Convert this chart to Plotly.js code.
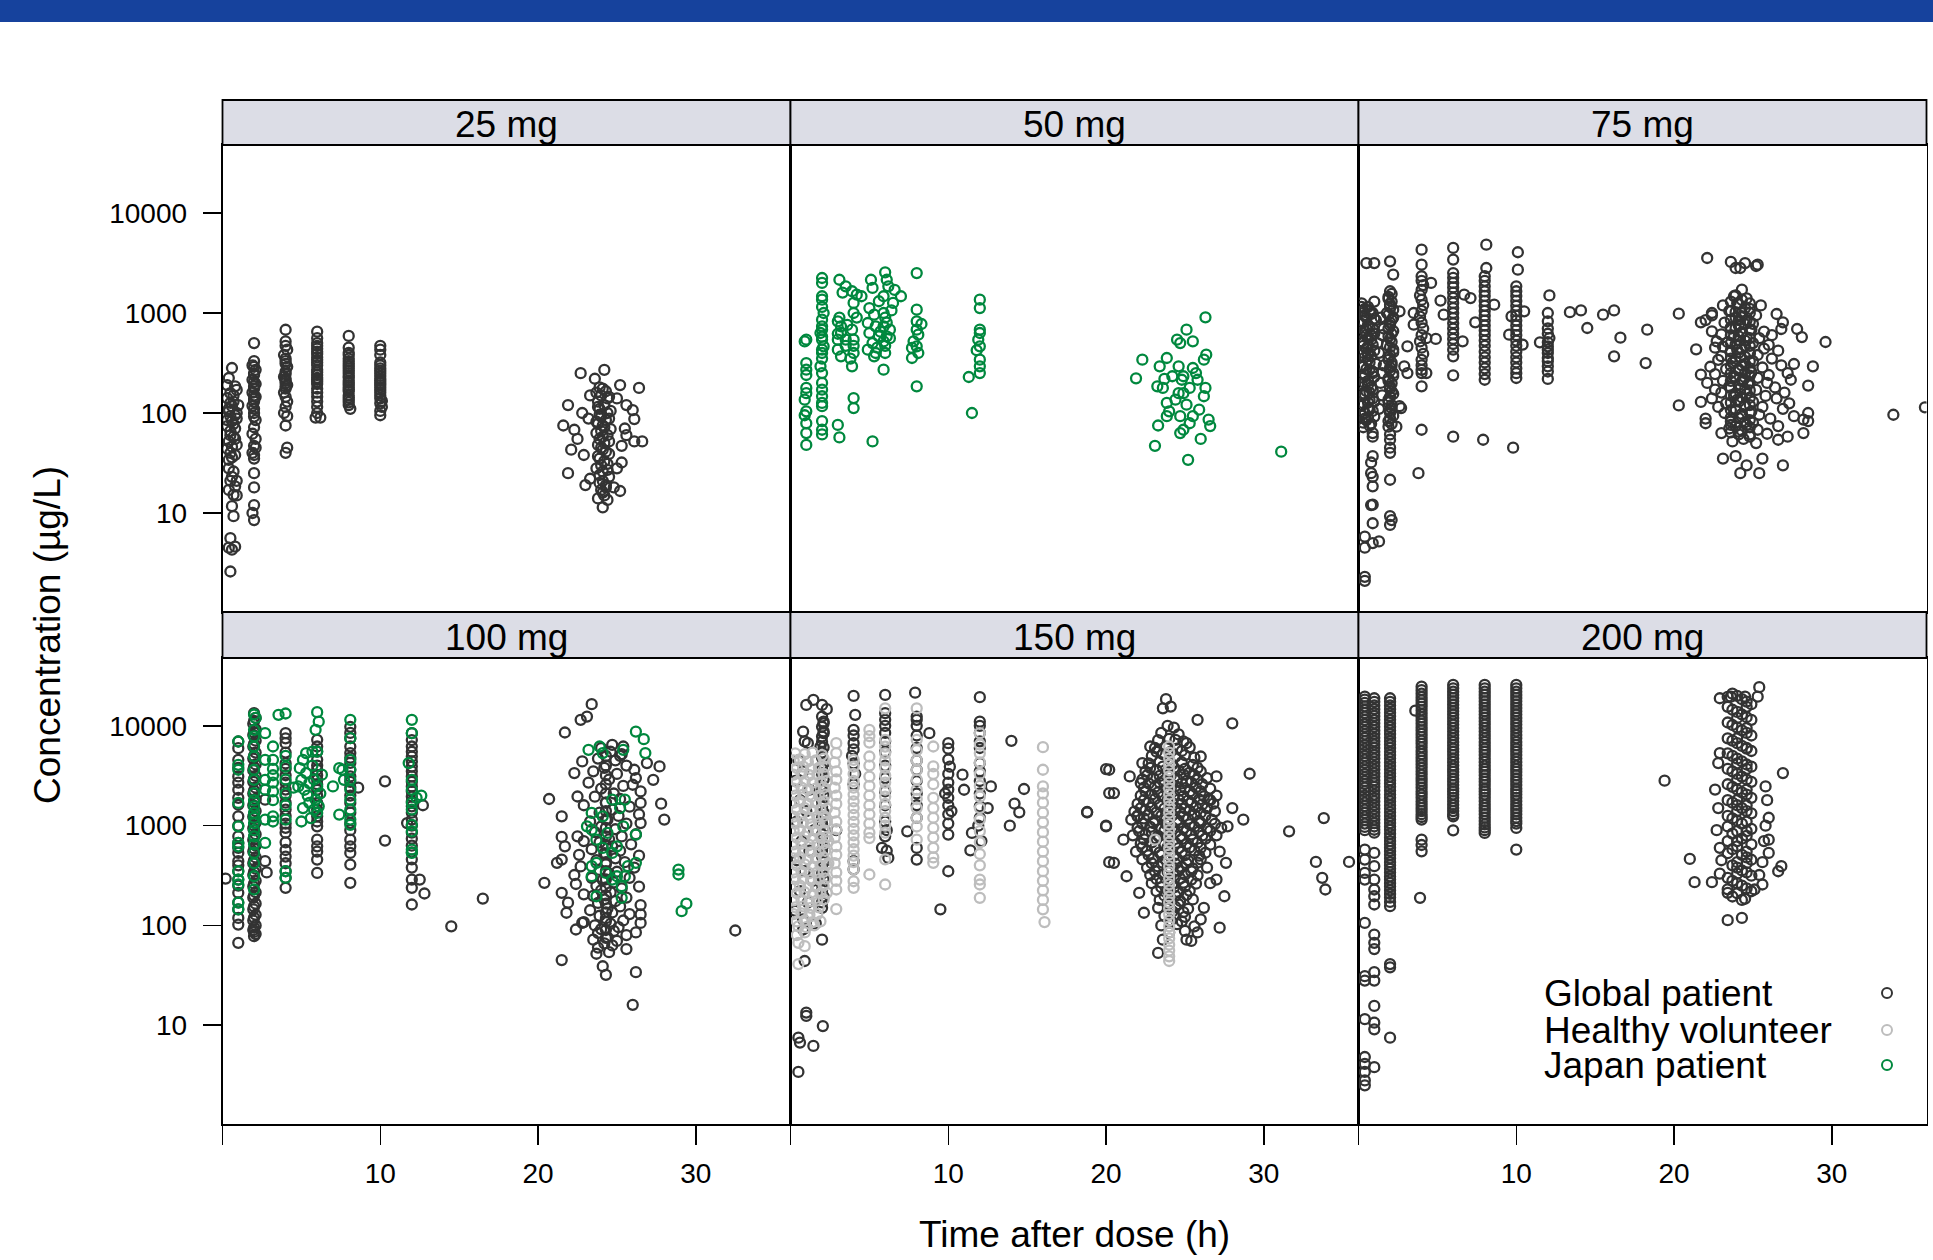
<!DOCTYPE html>
<html>
<head>
<meta charset="utf-8">
<script src="https://cdn.plot.ly/plotly-3.0.1.min.js"></script>
<style>
html,body{margin:0;padding:0;background:#fff;}
#chart{width:1933px;height:1260px;}
</style>
</head>
<body>
<div id="chart"></div>
<script>
// ---------------- DATA ----------------
const doses = ['25 mg','50 mg','75 mg','100 mg','150 mg','200 mg'];
const groups = ['Global patient','Healthy volunteer','Japan patient'];
const groupColors = ['#333333','#bdbdbd','#00883e'];
const yTickVals = [10,100,1000,10000];
const yTickText = ['10','100','1000','10000'];
const xTickVals = [0,10,20,30];
const xTickText = ['','10','20','30'];
const xTitle = 'Time after dose (h)';
const yTitle = 'Concentration (µg/L)';

// [time (h), concentration (µg/L)]
const global25 = [
[0.6,282],[0.4,224],[0.8,185],[0.5,158],[0.9,170],[0.3,141],[0.7,150],[0.5,126],[1.0,120],[0.6,117],[0.4,104],[0.8,95],[0.5,93],[0.9,88],[0.6,83],[0.3,74],[0.8,70],[0.5,66],[0.7,58],[0.4,52],[0.9,48],[0.6,46],[0.5,40],[0.8,38],[0.4,34],[0.6,23],[0.9,21],[0.5,21],[0.8,18.5],[0.4,17],[0.7,15.2],[0.9,15],[0.6,11.7],[0.7,9.3],[0.5,5.6],[0.8,4.6],[0.4,4.5],[0.6,4.3],[0.5,2.6],
[0.3,190],[0.7,130],[0.4,110],[0.9,100],[0.3,85],[0.7,78],[0.5,60],[0.8,55],[0.3,44],[0.6,36],[0.4,28],[0.7,26],
[2.0,500],[2.0,330],[1.9,300],[2.0,290],[2.1,270],[2.0,250],[2.0,240],[1.9,215],[2.0,205],[2.1,195],[2.0,185],[2.0,175],[1.9,160],[2.0,150],[2.1,145],[2.0,138],[2.0,130],[1.9,118],[2.0,110],[2.0,100],[2.0,92],[2.1,85],[2.0,72],[1.9,62],[2.1,55],[2.0,47],[2.1,45],[1.9,40],[2.0,38],[2.0,35],[2.0,25],[2.0,18],[2.0,12],[1.9,10],[2.0,8.5],
[4.0,680],[4.0,520],[4.0,470],[4.1,430],[3.9,380],[4.0,350],[4.0,330],[4.0,310],[4.1,290],[4.0,260],[4.0,245],[3.9,230],[4.0,220],[4.0,210],[4.0,200],[4.1,190],[4.0,185],[4.0,175],[3.9,160],[4.0,145],[4.1,130],[4.0,115],[3.9,100],[4.1,93],[4.0,75],[4.1,45],[4.0,40],
[6.0,650],[6.0,560],[6.0,500],[6.0,470],[6.0,440],[6.0,410],[6.0,390],[6.0,360],[6.0,340],[6.0,320],[6.0,300],[6.0,270],[6.0,255],[6.0,240],[6.0,225],[6.0,215],[6.0,205],[6.0,195],[6.0,175],[6.0,160],[6.0,145],[6.0,130],[6.0,115],[6.0,100],[5.9,90],[6.2,90],
[8.0,590],[8.0,450],[8.0,400],[8.0,380],[8.0,350],[8.0,330],[8.0,310],[8.0,295],[8.0,280],[8.0,265],[8.0,250],[8.0,235],[8.0,225],[8.0,210],[8.0,200],[8.0,190],[8.0,180],[8.0,172],[8.0,165],[8.0,150],[8.0,142],[8.0,135],[8.0,128],[8.0,120],[8.1,110],
[10.0,470],[10.0,430],[10.0,380],[10.0,320],[10.0,300],[10.0,280],[10.0,265],[10.0,250],[10.0,235],[10.0,220],[10.0,210],[10.0,200],[10.0,190],[10.0,180],[10.0,170],[10.0,160],[10.0,150],[10.0,140],[10.1,132],[10.0,125],[10.1,115],[10.0,105],[10.0,95],
[22.7,250],[24.2,270],[23.6,220],[25.2,190],[26.4,178],[21.9,120],[21.6,75],[22.3,68],[26.0,107],[26.1,87],[26.1,52],[26.6,52],[21.9,25],[25.3,32],[25.2,16.6],[24.4,13.5],[24.1,11.4],[22.1,43],[22.8,100],[23.0,19],[25.3,47],[22.5,55],[23.2,88],[25.5,70],[25.0,140],[23.3,150],[25.6,120],[22.9,38],[25.6,60],[25.0,28],[23.3,22],[24.8,18],
[23.9,180],[24.3,165],[24.0,150],[24.4,140],[23.8,130],[24.2,120],[23.9,110],[24.4,100],[24.0,92],[24.3,85],[23.8,78],[24.2,72],[24.0,66],[24.4,60],[23.9,55],[24.2,50],[24.0,45],[24.3,41],[23.8,37],[24.2,33],[24.0,30],[24.4,27],[23.9,24],[24.1,21],[24.3,19],[24.0,17],[24.2,15],
[24.1,175],[23.7,160],[24.5,145],[23.8,115],[24.6,105],[23.9,96],[24.5,88],[23.7,82],[24.1,75],[24.6,69],[23.7,63],[24.1,58],[24.5,52],[23.8,48],[24.1,43],[24.5,39],[23.9,35],[24.4,31],[23.7,28],[24.1,26],[24.5,23],[23.9,20],[24.3,18],[24.1,16],[23.8,14]
];

const japan50 = [
[1.0,541],[0.9,520],[1.0,316],[1.0,271],[1.0,240],[1.0,178],[1.0,158],[0.9,136],[1.0,104],[0.9,95],[1.0,79],[1.0,63],[1.0,48],
[2.0,2240],[2.0,2000],[2.0,1470],[2.0,1360],[2.0,1150],[2.1,1000],[2.0,858],[2.0,736],[2.0,680],[1.9,631],[2.0,580],[2.0,541],[2.1,464],[2.0,430],[2.0,398],[2.0,350],[1.9,293],[2.0,251],[2.0,200],[2.0,171],[2.0,147],[2.0,126],[2.0,117],[2.0,83],[2.0,68],[2.0,61],
[3.1,2150],[3.5,1850],[3.9,1650],[4.2,1525],[4.0,1260],[4.0,1000],[3.0,825],[3.2,736],[3.2,631],[3.0,541],[3.5,541],[3.9,681],[4.0,541],[3.0,430],[3.2,369],[4.0,398],[3.9,293],[4.0,141],[4.0,112],[3.0,76],[3.1,57],[4.5,1470],[3.3,1600],[3.1,900],[3.5,470],[4.0,470],[3.0,620],[3.6,760],[4.2,900],[3.8,350],
[5.1,2150],[6.0,2550],[6.1,2150],[6.2,1850],[5.2,1780],[5.6,1310],[5.9,1470],[7.0,1470],[6.5,1260],[5.0,1120],[5.3,962],[5.9,1000],[6.4,1060],[4.9,794],[5.4,736],[5.9,736],[6.3,681],[5.0,631],[5.6,585],[6.1,585],[5.2,500],[5.9,520],[4.9,430],[5.4,398],[6.0,398],[5.3,369],[5.9,271],[5.2,52],[6.0,900],[6.1,800],[5.7,650],[6.0,470],[5.5,450],[6.3,560],[6.6,1700],
[8.0,2510],[8.0,1080],[8.0,825],[8.3,776],[8.0,681],[8.1,607],[7.8,521],[8.0,464],[7.7,447],[8.1,398],[7.7,355],[8.0,185],
[12.0,1360],[12.0,1120],[12.0,681],[12.0,631],[11.9,541],[12.0,464],[11.8,424],[12.0,341],[12.0,293],[12.0,251],[11.3,229],[11.5,100],
[21.9,222],[22.3,341],[23.1,47],[23.3,75],[23.4,293],[23.85,355],[23.25,185],[23.6,178],[23.7,219],[23.85,126],[24.0,104],[24.5,541],[24.6,293],[24.7,500],[24.8,215],[24.9,158],[25.1,681],[25.2,34],[24.9,68],[25.1,121],[25.3,178],[25.5,521],[25.5,282],[25.7,251],[25.8,215],[25.9,108],[26.0,55],[26.2,341],[26.3,906],[26.3,178],[26.2,147],[26.35,383],[26.5,86],[26.6,74],[24.7,93],[25.5,93],[25.3,79],[24.4,136],[24.6,158],[24.2,233],[24.9,233],[23.85,93],[24.7,63],
[31.1,41]
];

const global75 = [
[0.5,3160],[1.0,3160],
[0.2,1250],[0.6,1150],[1.0,1300],[0.3,1050],[0.8,980],[0.5,900],[1.1,850],[0.2,780],[0.7,720],[0.4,660],[1.0,620],[0.6,560],[0.2,520],[0.9,480],[0.5,440],[0.3,400],[0.8,370],[0.6,340],[1.1,310],[0.3,290],[0.7,270],[0.4,245],[1.0,230],[0.6,210],[0.2,195],[0.8,180],[0.5,165],[0.3,150],[0.9,140],[0.6,128],[0.2,118],[0.7,108],[0.4,100],[1.0,92],[0.5,85],[0.8,78],[0.3,72],
[0.4,1100],[0.9,1000],[0.5,700],[0.8,600],[0.3,470],[0.6,380],[0.9,260],[0.4,200],[0.7,160],[1.0,130],[0.4,88],
[0.2,1150],[0.7,1050],[0.4,950],[1.0,880],[0.3,820],[0.6,760],[0.9,700],[0.2,640],[0.5,600],[0.8,540],[0.3,500],[0.6,460],[1.0,420],[0.4,360],[0.7,320],[0.2,300],[0.5,275],[0.9,250],[0.3,225],[0.6,190],[0.9,170],[0.4,155],[0.7,135],[0.3,125],[0.6,112],[0.9,105],[0.2,95],[0.6,90],[0.3,80],[0.7,75],
[1.4,900],[1.5,600],[1.3,400],[1.6,300],[1.4,200],[1.5,150],[1.3,110],[1.6,700],[1.2,500],[1.5,250],
[0.9,63],[0.9,58],[0.9,37],[0.8,32],[0.9,23],[0.8,25],[0.9,18.5],[0.9,12.1],[0.8,12],[0.9,7.9],[0.4,5.8],[0.4,4.5],[0.9,5],[1.3,5.2],[0.4,2.3],[0.4,2.1],
[2.0,3290],[2.2,2420],[2.0,1650],[1.9,1450],[2.1,1300],[2.0,1150],[1.8,1000],[2.2,900],[2.0,800],[1.9,700],[2.1,620],[2.0,550],[1.8,480],[2.2,430],[2.0,380],[1.9,340],[2.1,300],[2.0,265],[2.2,235],[1.9,210],[2.0,185],[2.1,165],[2.0,145],[1.9,128],[2.1,112],[2.0,100],[2.0,88],[2.1,78],[1.9,73],[2.0,61],[2.0,54],[2.0,45],[2.0,40],[2.0,21.5],[2.0,9.3],[2.0,7.6],[2.1,8.5],
[2.1,1550],[1.9,1380],[2.0,1220],[2.2,1080],[1.9,960],[2.1,850],[2.0,750],[2.2,660],[1.9,585],[2.1,515],[2.0,455],[2.2,405],[1.9,360],[2.1,320],[2.0,285],[2.2,250],[1.9,222],[2.1,198],[2.0,175],[2.2,155],[1.9,136],[2.1,120],[2.0,106],[2.2,94],[1.9,83],
[2.6,1040],[3.1,464],[3.1,251],[2.6,117],[2.9,293],[2.7,112],[2.4,73],
[4.0,4300],[4.0,3040],[4.0,2330],[4.0,2100],[4.1,1900],[4.0,1700],[3.9,1500],[4.0,1350],[4.1,1200],[4.0,1050],[3.9,920],[4.0,800],[4.1,700],[4.0,600],[3.9,520],[4.0,450],[4.1,390],[4.0,340],[4.0,300],[4.0,270],[4.0,251],[4.0,185],[4.0,68],[3.8,25],[3.5,1000],[3.5,764],[4.6,2000],[4.9,550],[4.3,251],[4.3,560],
[6.0,4470],[6.0,3420],[6.0,2510],[6.0,2250],[6.0,2000],[6.0,1800],[6.0,1600],[6.0,1420],[6.0,1260],[6.0,1120],[6.0,1000],[6.0,890],[6.0,790],[6.0,700],[6.0,620],[6.0,550],[6.0,490],[6.0,430],[6.0,369],[6.0,238],[6.0,58],[5.2,1330],[5.4,962],[6.7,1525],[7.1,1410],[6.6,521],
[8.1,4820],[8.1,2820],[8.0,2330],[8.0,2100],[8.0,1850],[8.0,1650],[8.0,1480],[8.0,1320],[8.0,1180],[8.0,1050],[8.0,940],[8.0,840],[8.0,750],[8.0,670],[8.0,600],[8.0,530],[8.0,470],[8.0,410],[8.0,360],[8.0,320],[8.0,280],[8.0,245],[8.0,215],[7.9,54],[7.4,807],[8.6,1210],
[10.1,4050],[10.1,2710],[10.0,1850],[10.0,1650],[10.0,1480],[10.0,1320],[10.0,1180],[10.0,1050],[10.0,940],[10.0,840],[10.0,750],[10.0,670],[10.0,600],[10.0,530],[10.0,470],[10.0,410],[10.0,360],[10.0,320],[10.0,280],[10.0,250],[10.0,224],[9.8,45],[9.55,607],[9.7,927],[10.5,1040],[10.4,482],
[12.1,1500],[12.0,1000],[12.0,825],[12.0,700],[12.0,620],[12.1,562],[12.0,510],[12.0,464],[12.0,430],[12.0,398],[12.0,355],[12.0,330],[12.0,293],[12.0,260],[12.0,219],[11.5,509],
[13.4,1020],[14.1,1060],[14.5,708],[15.5,962],[16.2,1060],[16.6,566],[16.2,369],[18.3,681],[18.2,316],[20.3,985],[20.3,119],[21.4,433],[21.7,807],[22.4,948],[21.7,242],[21.7,129],
[22.1,3550],[23.6,3240],[23.9,2820],[24.5,3160],[25.3,3040],[24.2,2820],[25.2,2950],
[24.3,1710],[23.8,1470],[24.6,1400],[23.1,1190],[25.5,1190],[24.0,1250],[24.8,1100],[23.5,1050],[24.3,1000],[22.4,1000],[26.5,977],[25.2,950],[23.9,900],[24.6,850],[22.0,850],[26.9,807],[23.2,800],[25.0,780],[24.1,750],[26.8,692],[22.4,656],[23.6,700],[24.9,680],[25.7,650],[24.3,640],[23.0,610],[27.8,692],[28.1,575],[29.6,513],[22.7,521],[23.8,590],[24.6,570],[25.4,560],[26.2,600],[24.1,530],[23.4,510],[25.0,500],[26.0,480],[24.5,470],[23.1,460],[22.6,450],[25.7,440],[24.0,430],[26.6,420],[23.6,410],[24.8,400],[25.3,380],[23.0,370],[24.2,360],[26.2,350],[22.8,340],[25.0,330],[23.7,320],[24.5,310],[27.6,309],[28.8,293],[26.8,300],[22.3,290],[25.6,285],[23.3,275],[24.1,265],[24.9,255],[27.2,250],[22.6,245],[26.0,240],[23.8,232],[25.3,225],[24.4,215],[27.4,215],[23.1,210],[22.1,200],[25.9,200],[24.7,195],[28.5,188],[23.5,185],[26.4,180],[22.6,171],[24.2,175],[25.2,170],[23.0,160],[27.0,160],[24.6,155],[23.8,150],[25.8,148],[22.4,140],[26.5,140],[24.0,135],[25.0,130],[23.3,125],[27.3,125],[24.5,120],[22.8,115],[25.6,115],[26.9,110],[23.9,108],[24.9,104],[28.5,100],[23.2,100],[25.4,96],[27.6,93],[24.3,92],[22.0,88],[26.1,88],[28.2,86],[28.5,83],[23.6,82],[25.0,80],[22.0,79],[24.6,76],[26.6,74],[23.5,70],[25.3,68],[24.1,65],[28.2,63],[23.0,63],[25.9,62],[24.8,58],[27.2,58],[24.4,55],[26.6,54],[23.7,52],[25.2,50],[23.1,35],[23.9,37],[24.2,25],[25.4,25],[25.6,35],[26.9,30],[24.6,30],
[23.9,1500],[24.3,1350],[24.1,1230],[24.5,1120],[23.9,1020],[24.3,930],[24.1,850],[24.5,775],[23.9,705],[24.3,640],[24.1,585],[24.5,530],[23.9,485],[24.3,440],[24.1,400],[24.5,365],[23.9,330],[24.3,300],[24.1,275],[24.5,250],[23.9,228],[24.3,208],[24.1,190],[24.5,172],[23.9,157],[24.3,143],[24.1,130],[24.5,118],[23.9,108],[24.3,98],[24.1,89],[24.5,81],[23.9,74],[24.3,67],[24.1,61],
[23.6,1300],[24.8,1250],[23.6,1050],[24.8,1000],[23.6,860],[24.8,820],[23.6,720],[24.8,680],[23.6,600],[24.8,560],[23.6,500],[24.8,470],[23.6,420],[24.8,395],[23.6,350],[24.8,330],[23.6,295],[24.8,280],[23.6,250],[24.8,236],[23.6,210],[24.8,200],[23.6,178],[24.8,168],[23.6,150],[24.8,142],[23.6,127],[24.8,120],[23.6,107],[24.8,101],[23.6,90],[24.8,85],[23.6,76],[24.8,72],[23.6,64],[24.8,61],
[33.9,96],[35.9,114]
];

const global100 = [
[1.0,6970],[1.0,5980],[1.0,4570],[1.0,3800],[1.0,3110],[1.0,2700],[1.0,2290],[1.0,1900],[1.0,1620],[1.0,1240],[1.0,1000],[1.0,782],[1.0,671],[1.0,600],[1.0,533],[1.0,440],[1.0,400],[1.0,350],[1.0,288],[1.0,250],[1.0,212],[1.0,170],[1.0,145],[1.0,119],[1.0,102],[1.0,67],[0.2,295],
[2.0,13400],[2.1,12000],[1.95,10500],[2.1,9200],[1.95,8100],[2.1,7100],[1.95,6200],[2.1,5400],[1.95,4700],[2.1,4100],[1.95,3600],[2.1,3150],[1.95,2750],[2.1,2400],[1.95,2100],[2.1,1850],[1.95,1600],[2.1,1400],[1.95,1230],[2.1,1070],[1.95,940],[2.1,820],[1.95,720],[2.1,630],[1.95,550],[2.1,480],[1.95,420],[2.1,370],[1.95,320],[2.1,280],[1.95,245],[2.1,215],[1.95,190],[2.1,165],[1.95,145],[2.1,128],[1.95,112],[2.1,100],[1.95,90],[2.1,82],[2.0,78],
[2.0,11200],[2.0,8600],[2.0,6600],[2.0,5000],[2.0,3850],[2.0,2950],[2.0,2250],[2.0,1720],[2.0,1310],[2.0,1000],[2.0,770],[2.0,590],[2.0,450],[2.0,345],[2.0,262],[2.0,200],[2.0,155],[2.0,120],[2.0,95],[2.0,86],
[2.7,1820],[2.7,440],[2.8,340],
[4.0,8450],[4.0,7500],[4.0,6700],[4.0,5400],[4.0,4200],[4.0,3700],[4.0,3200],[4.0,2700],[4.0,2300],[4.0,2000],[4.0,1700],[4.0,1450],[4.0,1250],[4.0,1050],[4.0,950],[4.0,850],[4.0,680],[4.0,570],[4.0,490],[4.0,420],[4.0,350],[4.0,300],[4.0,238],
[6.0,7240],[6.0,6210],[6.0,5530],[6.0,4570],[6.0,4000],[6.0,3630],[6.0,3200],[6.0,2880],[6.0,2600],[6.0,2290],[6.0,2000],[6.0,1690],[6.0,1450],[6.0,1240],[6.0,1100],[6.0,985],[6.0,724],[6.0,621],[6.0,550],[6.0,457],[6.0,336],
[8.1,9770],[8.1,8500],[8.1,7530],[8.1,6210],[8.1,5330],[8.1,4800],[8.1,4250],[8.1,3630],[8.1,3110],[8.1,2750],[8.1,2420],[8.1,2000],[8.1,1690],[8.1,1350],[8.1,1060],[8.1,900],[8.1,724],[8.1,621],[8.1,533],[8.1,407],[8.1,267],[8.6,2400],
[10.3,2780],[10.3,708],
[12.0,8450],[12.0,7200],[12.0,6210],[12.0,5500],[12.0,4930],[12.0,4400],[12.0,3910],[12.0,3500],[12.0,3110],[12.0,2750],[12.0,2470],[12.0,2200],[12.0,1960],[12.0,1750],[12.0,1560],[12.0,1350],[12.0,1150],[12.0,1000],[12.0,850],[12.0,740],[12.0,630],[12.0,540],[12.0,460],[12.0,380],[12.0,288],[12.0,238],[12.0,162],[12.5,288],[12.8,209],[12.7,1600],[11.7,1060],
[14.5,98],[16.5,186],
[23.4,16500],[23.1,12400],[22.7,11500],[21.7,8580],[20.7,1850],[21.5,1240],[20.4,267],[21.5,212],[21.5,45],[22.3,3360],[22.8,4400],[22.5,1960],[23.7,52],[24.1,39],[24.3,32],[26.2,34],[26.0,16],[28.0,1150],[27.8,1660],[27.7,3920],[27.3,2880],[26.9,4240],[26.5,1690],[26.1,3630],[25.4,6210],[24.7,6460],[25.2,5010],[26.0,2570],[26.5,1060],[26.5,106],[26.5,129],[26.2,85],[22.8,106],[22.4,91],[21.8,134],[21.9,169],[21.5,457],[21.2,424],[21.7,621],[21.5,771],[22.5,782],
[24.0,6000],[24.6,5500],[25.3,5200],[23.8,4700],[24.9,4500],[25.6,4000],[24.2,3800],[23.5,3500],[25.0,3300],[26.2,3000],[24.5,2900],[23.2,2700],[25.4,2500],[24.0,2350],[26.5,2200],[24.8,2100],[23.6,1950],[25.2,1850],[24.3,1700],[22.9,1600],[25.8,1550],[24.7,1450],[23.9,1350],[26.4,1300],[25.1,1250],[24.4,1150],[23.3,1100],[25.6,1050],[24.0,980],[24.9,920],[23.6,860],[26.2,820],[25.3,780],[24.5,730],[22.9,700],[23.9,680],[25.9,650],[24.7,620],[23.4,580],[25.2,560],[24.2,530],[22.6,510],[26.4,500],[24.9,470],[23.7,450],[25.5,430],[24.3,410],[22.7,390],[26.1,380],[23.9,360],[25.0,345],[24.5,330],[22.3,320],[23.4,300],[25.8,300],[24.1,285],[24.8,270],[22.4,260],[23.7,250],[26.4,245],[25.3,235],[24.0,225],[24.6,215],[22.9,205],[23.5,198],[25.6,190],[24.2,182],[24.9,175],[23.8,168],[26.5,160],[25.2,155],[24.4,148],[23.3,142],[24.7,135],[25.8,130],[23.9,125],[24.3,118],[25.4,112],[22.9,108],[24.6,104],[23.6,100],[25.1,96],[24.0,92],[24.8,88],[23.8,84],[25.6,80],[24.4,76],[23.5,72],[25.0,70],[24.2,66],[24.7,63],[23.8,60],[25.6,58],[24.5,54],
[24.3,5000],[24.3,4000],[24.3,3200],[24.3,2600],[24.3,2100],[24.3,1700],[24.3,1400],[24.3,1150],[24.3,950],[24.3,780],[24.3,640],[24.3,520],[24.3,430],[24.3,350],[24.3,290],[24.3,240],[24.3,200],[24.3,165],[24.3,135],[24.3,110],[24.3,90],[24.3,75],
[32.5,89]
];

const japan100 = [
[1.0,6970],[1.0,4070],[1.0,3630],[1.0,1690],[1.0,985],[1.0,671],[1.0,621],[1.0,349],[1.0,288],[1.0,257],[1.0,169],[1.0,145],
[2.0,13000],[2.1,12000],[2.0,9120],[2.0,7840],[2.0,6210],[2.0,4930],[2.0,3630],[2.0,2880],[2.0,2120],[2.0,1800],[2.0,1560],[2.0,1340],[2.0,1200],[2.0,1060],[2.0,900],[2.0,782],[2.0,650],[2.0,533],[2.0,420],[2.0,311],[2.0,229],
[2.7,8450],[2.7,4570],[2.7,2880],[2.7,2290],[2.7,1150],[2.7,671],
[3.2,6210],[3.2,4570],[3.2,3700],[3.2,3200],[3.2,2700],[3.2,2200],[3.2,1800],[3.2,1240],[3.2,1100],[4.0,5000],[4.0,3900],[4.0,2900],[4.0,2100],[4.0,1600],[4.0,1150],[4.0,349],[4.0,300],[3.55,12900],[4.0,13300],
[6.0,13700],[6.1,11000],[5.9,9120],[5.7,5530],[6.0,5530],[5.3,5330],[5.1,4570],[4.9,3770],[5.3,3360],[5.0,2880],[5.7,4000],[5.5,2670],[4.8,2470],[5.2,2290],[6.0,2470],[5.9,1820],[5.5,1690],[6.1,1560],[5.0,1100],[5.6,1190],[6.0,1340],[4.5,2400],[6.3,3240],[5.8,2900],[5.4,2000],[6.2,2100],[5.1,1500],[5.8,1450],
[7.4,3770],[7.6,3630],[7.0,2470],[7.7,2880],[7.4,1290],[8.1,11500],[8.1,7530],[8.1,4570],[8.1,3630],[8.1,2880],[8.1,2290],[8.1,1820],[8.1,1450],[8.1,1150],[8.1,1020],
[11.8,4240],[12.0,11500],[12.0,8450],[12.0,2880],[12.0,2290],[12.0,1690],[12.0,1450],[12.0,1020],[12.0,877],[12.0,575],[12.0,533],[12.6,2000],[12.3,1900],
[23.2,5750],[23.9,6210],[24.1,5330],[25.4,5750],[26.2,8770],[26.7,7360],[26.8,5330],[24.7,1820],[25.2,1500],[25.5,1820],[23.4,1340],[24.1,1240],[23.4,912],[24.4,845],[25.4,985],[23.1,985],[26.2,813],[23.7,724],[25.0,621],[24.1,598],[24.7,533],[26.2,424],[23.4,392],[23.7,424],[25.7,392],[25.5,311],[24.3,336],[23.4,311],[25.0,311],[25.3,247],[24.7,288],[23.7,196],[25.3,189],
[28.9,363],[28.9,324],[29.1,139],[29.4,165]
];

const global150 = [
[1.0,16200],[1.45,18200],[2.0,16200],[2.3,14700],[0.8,8770],[1.1,6710],[0.9,7000],[2.1,10600],[2.1,8450],[1.9,6210],
[2.0,12400],[2.1,11000],[2.0,9800],[2.1,8800],[2.0,7800],[2.0,6900],[2.1,6100],[2.0,5400],[2.0,4800],[2.1,4200],[2.0,3700],[2.0,3300],[2.1,2900],[2.0,2550],[2.0,2250],[2.1,2000],[2.0,1750],[2.0,1550],[2.1,1350],[2.0,1200],[2.0,1050],[2.1,930],[2.0,820],[2.0,720],[2.1,640],[2.0,560],[2.0,490],[2.1,430],[2.0,380],[2.0,330],[2.1,290],[2.0,255],[2.0,225],[2.1,195],[2.0,170],[2.0,150],
[0.5,4500],[0.8,3500],[0.3,2800],[1.2,2300],[0.6,1800],[1.0,1400],[0.4,1100],[1.5,900],[0.7,700],[1.2,560],[0.4,450],[0.9,350],[1.4,280],[0.6,220],[1.1,170],[0.3,140],[0.8,115],
[2.0,72],[0.9,44],[0.8,91],[1.0,12.4],[1.0,13.4],[2.05,9.8],[0.5,7.5],[0.6,6.7],[1.45,6.2],[0.5,3.4],[1.6,105],
[2.9,900],
[4.0,19950],[4.1,12900],[4.0,9120],[4.0,8000],[4.0,6710],[4.0,5800],[3.9,5000],[4.0,4200],[4.1,3300],[4.0,2600],[4.0,440],[4.0,365],
[6.0,20400],[6.0,13400],[6.0,11500],[6.0,10000],[6.0,8500],[6.0,7000],[6.0,5500],[6.0,4000],[6.0,3000],[6.0,2200],[6.0,1600],[6.0,1100],[6.1,900],[6.0,782],[5.8,600],[6.1,560],[6.2,475],
[7.9,21500],[8.0,12400],[8.0,11500],[8.0,10000],[8.0,8000],[8.0,6000],[8.0,4500],[8.0,3630],[8.0,2800],[8.0,2100],[8.0,1600],[8.0,1200],[7.4,877],[8.0,598],[8.0,457],[8.8,8450],
[10.0,6710],[10.0,5900],[10.0,4600],[10.1,3900],[10.0,3300],[10.0,2700],[10.0,2300],[9.8,2100],[10.0,1900],[10.0,1600],[10.2,1400],[10.0,1300],[10.0,1050],[10.0,813],[10.0,349],[9.5,145],[10.9,3240],[11.0,2290],
[12.0,19400],[12.0,11000],[12.0,10000],[12.0,8500],[12.0,7000],[12.0,6000],[12.0,4240],[12.0,3500],[12.0,2800],[12.0,2100],[12.0,1560],[12.0,1200],[11.9,1000],[11.5,845],[12.1,700],[11.4,566],[12.5,1500],[12.7,2470],
[14.0,7080],[14.8,2330],[14.2,1660],[14.5,1360],[13.9,1000],[18.8,1360],[20.0,3690],[20.2,2120],[20.0,1000],[20.2,430],
[23.8,18500],[23.6,15000],[24.1,15600],[25.8,11500],[28.0,10600],[29.1,3310],[28.7,1150],[28.0,1500],[27.0,3110],[20.2,3630],[20.5,2120],[18.8,1370],[20.0,985],[20.5,424],[22.2,2670],[21.5,3110],[22.3,4240],[22.8,6210],[24.4,7240],[25.1,6710],[26.0,4930],[26.5,1820],[27.7,985],[27.6,424],[27.0,288],[27.5,196],[27.2,95],[25.8,85],[25.4,70],[23.3,53],[23.6,72],[22.4,134],[22.1,212],[21.3,311],[21.1,724],[22.0,1240],[25.1,72],[26.0,115],
[23.9,10000],[24.3,9600],
[23.5,8500],[24.6,8200],
[23.3,7200],[24.0,7400],[24.9,7000],
[23.1,6000],[23.8,6200],[24.5,5900],[25.3,6100],
[22.9,5000],[23.6,5200],[24.4,4900],[25.0,5100],[25.6,4800],
[22.7,4200],[23.4,4350],[24.2,4100],[24.8,4300],[25.5,4050],
[22.5,3500],[23.2,3600],[23.9,3450],[24.6,3550],[25.3,3400],[26.0,3500],
[22.3,2900],[23.0,3000],[23.7,2850],[24.5,2950],[25.1,2800],[25.8,2900],[26.4,3000],
[22.4,2400],[23.1,2450],[23.8,2350],[24.4,2500],[25.0,2380],[25.7,2420],[26.6,2350],
[22.2,2000],[22.9,2050],[23.6,1950],[24.3,2020],[24.9,1980],[25.5,2060],[26.2,1970],[27.0,2000],
[22.0,1650],[22.7,1700],[23.4,1620],[24.2,1680],[24.8,1640],[25.4,1690],[26.1,1630],[26.8,1660],
[21.8,1380],[22.5,1420],[23.2,1360],[24.0,1400],[24.7,1370],[25.3,1410],[26.0,1350],[26.9,1390],
[21.6,1150],[22.4,1180],[23.1,1130],[23.8,1160],[24.5,1140],[25.2,1170],[25.9,1120],[26.7,1150],
[22.0,950],[22.8,970],[23.5,930],[24.2,960],[24.9,940],[25.6,975],[26.4,935],[27.3,950],
[21.7,800],[22.5,820],[23.3,790],[24.0,810],[24.7,785],[25.4,815],[26.1,795],[27.0,800],
[22.2,660],[22.9,680],[23.7,650],[24.4,670],[25.1,655],[25.8,675],[26.6,645],
[21.9,550],[22.6,560],[23.4,540],[24.1,555],[24.8,545],[25.6,565],[26.3,535],[27.2,550],
[22.3,460],[23.0,470],[23.8,455],[24.5,465],[25.2,450],[26.0,460],
[22.6,380],[23.3,390],[24.1,375],[24.8,385],[25.5,372],[26.4,380],
[22.8,320],[23.6,325],[24.3,315],[25.0,322],[25.8,318],
[22.9,265],[23.5,270],[24.2,260],[24.9,268],[25.7,262],[26.6,265],
[23.2,220],[23.9,225],[24.6,215],[25.3,222],
[23.4,180],[24.0,184],[24.7,176],[25.5,182],
[23.3,150],[24.4,153],[25.2,147],[26.2,150],
[23.7,125],[24.3,128],[25.0,122],
[23.5,100],[24.5,103],[25.6,98],
[24.0,85],[25.0,88],
[23.2,5500],[24.1,5500],[24.8,5600],[22.8,3800],[23.6,3900],[24.3,3800],[25.0,3700],[25.8,3800],[22.6,3200],[23.4,3150],[24.1,3200],[24.9,3250],[25.6,3200],[22.7,2650],[23.4,2700],[24.1,2600],[24.8,2650],[25.4,2700],[26.1,2600],[22.5,2200],[23.3,2150],[24.0,2200],[24.7,2250],[25.3,2200],[26.0,2200],[22.4,1800],[23.1,1850],[23.9,1800],[24.6,1820],[25.2,1780],[25.9,1830],[26.6,1800],[22.2,1500],[22.9,1520],[23.7,1480],[24.4,1510],[25.0,1490],[25.7,1530],[26.4,1500],[22.0,1260],[22.7,1280],[23.5,1250],[24.2,1270],[24.9,1240],[25.6,1290],[26.3,1260],[22.3,1050],[23.0,1060],[23.8,1040],[24.6,1070],[25.3,1030],[26.0,1060],[26.9,1040],[22.1,880],[22.9,870],[23.7,890],[24.4,860],[25.1,880],[25.9,870],[26.6,885],[22.4,730],[23.2,740],[24.0,720],[24.8,735],[25.5,725],[26.3,740],[22.3,605],[23.1,600],[23.9,610],[24.6,595],[25.3,605],[26.0,600],[22.7,505],[23.5,510],[24.3,500],[25.0,505],[25.9,500],[22.9,420],[23.6,425],[24.4,415],[25.1,420],[25.8,425],[23.1,350],[23.9,345],[24.6,352],[25.4,348],[23.2,292],[24.0,290],[24.7,295],[25.4,288],[23.5,242],[24.3,240],[25.0,245],[23.7,200],[24.4,198],[25.1,202],[23.9,165],[24.6,163],[24.2,138],[24.9,136],[24.1,112],[24.8,110],
[31.6,877],[33.8,1190],[33.3,433],[33.7,300],[33.9,229],[35.4,433]
];

const healthy150 = [
[0.3,5300],[0.9,5200],[1.4,5400],[2.0,5100],
[0.2,4500],[0.6,4600],[1.1,4400],[1.6,4500],[2.1,4700],
[0.4,3800],[0.8,3900],[1.3,3700],[1.8,3800],[2.2,3900],
[0.2,3250],[0.7,3300],[1.2,3200],[1.7,3250],[2.1,3300],
[0.4,2750],[0.9,2800],[1.4,2700],[1.9,2750],[2.3,2800],
[0.2,2350],[0.7,2400],[1.1,2300],[1.6,2350],[2.1,2400],
[0.3,2000],[0.8,2050],[1.3,1950],[1.8,2000],[2.2,2050],
[0.2,1700],[0.6,1750],[1.1,1650],[1.6,1700],[2.1,1750],
[0.4,1450],[0.9,1500],[1.4,1420],[1.9,1450],[2.3,1480],
[0.2,1230],[0.7,1260],[1.2,1200],[1.7,1230],[2.1,1250],
[0.3,1050],[0.8,1080],[1.3,1030],[1.8,1050],[2.2,1070],
[0.2,890],[0.6,910],[1.1,870],[1.6,890],[2.1,900],
[0.4,760],[0.9,780],[1.4,740],[1.9,760],[2.3,770],
[0.2,650],[0.7,660],[1.2,640],[1.7,650],[2.1,660],
[0.3,550],[0.8,560],[1.3,540],[1.8,550],[2.2,560],
[0.2,470],[0.6,480],[1.1,460],[1.6,470],[2.1,480],
[0.4,400],[0.9,410],[1.4,390],[1.9,400],[2.3,405],
[0.2,340],[0.7,345],[1.2,335],[1.7,340],[2.1,345],
[0.3,290],[0.8,295],[1.3,285],[1.8,290],[2.2,295],
[0.2,245],[0.6,250],[1.1,240],[1.6,245],[2.1,250],
[0.4,210],[0.9,215],[1.4,205],[1.9,210],[2.3,212],
[0.2,178],[0.7,180],[1.2,175],[1.7,178],[2.1,182],
[0.3,152],[0.8,155],[1.3,150],[1.8,152],
[0.2,130],[0.7,132],[1.2,128],[1.7,130],
[0.4,110],[0.9,112],[1.4,108],[1.9,110],
[0.5,98],[1.0,96],[1.5,100],
[0.5,67],[0.9,62],[0.5,41],[0.4,80],[0.9,85],[2.3,1100],[2.4,700],[2.4,420],
[2.9,6710],[2.9,5330],[2.8,4300],[2.9,3500],[2.9,2900],[2.8,2400],[2.9,2000],[2.9,1650],[2.8,1350],[2.9,1100],[2.9,920],[2.8,760],[2.9,620],[2.9,510],[2.8,420],[2.9,340],[2.9,280],[2.9,229],[2.9,146],
[4.0,4570],[4.0,3900],[4.0,3300],[4.0,2800],[4.0,2400],[4.0,2050],[4.0,1750],[4.0,1500],[4.0,1280],[4.0,1090],[4.0,930],[4.0,800],[4.0,680],[4.0,580],[4.0,500],[4.0,430],[4.0,365],[4.0,277],[4.0,238],
[5.0,9120],[5.0,7900],[5.0,6800],[5.0,4930],[5.0,4000],[5.0,3100],[5.0,2500],[5.0,2000],[5.0,1600],[5.0,1300],[5.0,1050],[5.0,850],[5.0,750],[5.0,324],
[6.0,15000],[6.0,7240],[6.0,6200],[6.0,5300],[6.0,4500],[6.0,3800],[6.0,3200],[6.0,2700],[6.0,2300],[6.0,1950],[6.0,1650],[6.0,1400],[6.0,1200],[6.0,1000],[6.0,850],[6.0,460],[6.0,257],
[8.0,15000],[8.0,7240],[8.0,5700],[8.0,4500],[8.0,3600],[8.0,2900],[8.0,2300],[8.0,1850],[8.0,1500],[8.0,1200],[8.0,980],[8.0,724],
[9.05,6210],[9.05,3920],[9.05,3300],[9.05,2600],[9.05,1900],[9.05,1500],[9.05,1200],[9.05,950],[9.05,760],[9.05,600],[9.05,480],[9.05,424],
[12.0,8450],[12.0,6500],[12.0,5300],[12.0,4300],[12.0,3300],[12.0,2500],[12.0,1950],[12.0,1500],[12.0,1150],[12.0,880],[12.0,680],[12.0,520],[12.0,400],[12.0,288],[12.0,257],[12.0,189],
[16.0,6120],[16.0,3630],[16.0,2470],[16.0,2100],[16.0,1700],[16.0,1350],[16.0,1080],[16.0,860],[16.0,690],[16.0,550],[16.0,440],[16.0,350],[16.0,280],[16.0,225],[16.0,180],[16.0,145],[16.1,108],
[24.0,6210],[24.0,5400],[24.0,4700],[24.0,4100],[24.0,3600],[24.0,3100],[24.0,2700],[24.0,2350],[24.0,2050],[24.0,1800],[24.0,1550],[24.0,1350],[24.0,1180],[24.0,1030],[24.0,900],[24.0,780],[24.0,680],[24.0,590],[24.0,515],[24.0,450],[24.0,390],[24.0,340],[24.0,295],[24.0,258],[24.0,225],[24.0,195],[24.0,170],[24.0,148],[24.0,129],[24.0,112],[24.0,98],[24.0,85],[24.0,74],[24.0,64],[24.0,56],[24.0,49],[24.0,44],
[23.1,724]
];

const global200 = [
[0.4,19600],[0.4,17000],[0.4,14500],[0.4,12400],[0.4,10500],[0.4,8900],[0.4,7600],[0.4,6400],[0.4,5400],[0.4,4600],[0.4,3900],[0.4,3300],[0.4,2800],[0.4,2400],[0.4,2000],[0.4,1700],[0.4,1450],[0.4,1230],[0.4,1050],[0.4,900],[0.4,575],[0.4,457],[0.4,336],[0.4,288],[0.4,106],[0.4,31],[0.4,28],[0.4,11.5],[0.4,4.8],[0.4,4.1],[0.4,3.4],[0.4,2.8],[0.4,2.5],
[0.4,18300],[0.4,15700],[0.4,13400],[0.4,11400],[0.4,9700],[0.4,8200],[0.4,7000],[0.4,5900],[0.4,5000],[0.4,4250],[0.4,3600],[0.4,3050],[0.4,2600],[0.4,2200],[0.4,1850],[0.4,1570],[0.4,1340],[0.4,1140],[0.4,970],
[1.0,18900],[1.0,16000],[1.0,13500],[1.0,11500],[1.0,9800],[1.0,8300],[1.0,7000],[1.0,6000],[1.0,5100],[1.0,4300],[1.0,3650],[1.0,3100],[1.0,2650],[1.0,2250],[1.0,1900],[1.0,1600],[1.0,1360],[1.0,1150],[1.0,980],[1.0,850],[1.0,533],[1.0,392],[1.0,288],[1.0,229],[1.0,196],[1.0,162],[1.0,81],[1.0,67],[1.0,58],[1.0,34],[1.0,28],[1.0,15.6],[1.0,10.6],[1.0,9.1],[1.0,3.8],
[1.0,17400],[1.0,14700],[1.0,12500],[1.0,10600],[1.0,9000],[1.0,7600],[1.0,6500],[1.0,5500],[1.0,4700],[1.0,3950],[1.0,3350],[1.0,2850],[1.0,2450],[1.0,2050],[1.0,1750],[1.0,1480],[1.0,1250],[1.0,1060],[1.0,910],
[2.0,18900],[2.0,16000],[2.0,13500],[2.0,11500],[2.0,9800],[2.0,8300],[2.0,7000],[2.0,6000],[2.0,5100],[2.0,4300],[2.0,3650],[2.0,3100],[2.0,2650],[2.0,2250],[2.0,1900],[2.0,1600],[2.0,1360],[2.0,1150],[2.0,980],[2.0,830],[2.0,700],[2.0,600],[2.0,510],[2.0,430],[2.0,370],[2.0,310],[2.0,265],[2.0,225],[2.0,190],[2.0,156],[2.0,41],[2.0,38],[2.0,7.5],
[2.0,17400],[2.0,14700],[2.0,12500],[2.0,10600],[2.0,9000],[2.0,7600],[2.0,6500],[2.0,5500],[2.0,4700],[2.0,3950],[2.0,3350],[2.0,2850],[2.0,2450],[2.0,2050],[2.0,1750],[2.0,1480],[2.0,1250],[2.0,1060],[2.0,910],[2.0,760],[2.0,650],[2.0,555],[2.0,470],[2.0,400],[2.0,340],[2.0,288],[2.0,245],[2.0,207],[2.0,172],
[4.0,24700],[4.0,21000],[4.0,18000],[4.0,15500],[4.0,13200],[4.0,11300],[4.0,9700],[4.0,8300],[4.0,7100],[4.0,6100],[4.0,5200],[4.0,4450],[4.0,3800],[4.0,3250],[4.0,2800],[4.0,2400],[4.0,2050],[4.0,1750],[4.0,1500],[4.0,1300],[4.0,1150],[4.0,724],[4.0,640],[4.0,553],[3.9,189],[3.6,14200],
[4.0,22800],[4.0,19400],[4.0,16700],[4.0,14300],[4.0,12200],[4.0,10500],[4.0,9000],[4.0,7700],[4.0,6600],[4.0,5600],[4.0,4800],[4.0,4100],[4.0,3500],[4.0,3000],[4.0,2600],[4.0,2200],[4.0,1900],[4.0,1620],[4.0,1400],[4.0,1220],
[6.0,25700],[6.0,22000],[6.0,19000],[6.0,16300],[6.0,14000],[6.0,12000],[6.0,10300],[6.0,8800],[6.0,7500],[6.0,6400],[6.0,5500],[6.0,4700],[6.0,4000],[6.0,3450],[6.0,2950],[6.0,2550],[6.0,2200],[6.0,1900],[6.0,1620],[6.0,1400],[6.0,1240],[6.0,898],
[6.0,23800],[6.0,20400],[6.0,17600],[6.0,15100],[6.0,13000],[6.0,11100],[6.0,9500],[6.0,8100],[6.0,6900],[6.0,5900],[6.0,5100],[6.0,4350],[6.0,3700],[6.0,3200],[6.0,2750],[6.0,2350],[6.0,2050],[6.0,1760],[6.0,1500],[6.0,1300],
[8.0,25700],[8.0,22000],[8.0,19000],[8.0,16300],[8.0,14000],[8.0,12000],[8.0,10300],[8.0,8800],[8.0,7500],[8.0,6400],[8.0,5500],[8.0,4700],[8.0,4000],[8.0,3450],[8.0,2950],[8.0,2550],[8.0,2200],[8.0,1900],[8.0,1620],[8.0,1400],[8.0,1200],[8.0,1030],[8.0,900],[8.0,845],
[8.0,23800],[8.0,20400],[8.0,17600],[8.0,15100],[8.0,13000],[8.0,11100],[8.0,9500],[8.0,8100],[8.0,6900],[8.0,5900],[8.0,5100],[8.0,4350],[8.0,3700],[8.0,3200],[8.0,2750],[8.0,2350],[8.0,2050],[8.0,1760],[8.0,1500],[8.0,1300],[8.0,1110],[8.0,960],
[10.0,25700],[10.0,22000],[10.0,19000],[10.0,16300],[10.0,14000],[10.0,12000],[10.0,10300],[10.0,8800],[10.0,7500],[10.0,6400],[10.0,5500],[10.0,4700],[10.0,4000],[10.0,3450],[10.0,2950],[10.0,2550],[10.0,2200],[10.0,1900],[10.0,1620],[10.0,1400],[10.0,1200],[10.0,1050],[10.0,948],[10.0,575],
[10.0,23800],[10.0,20400],[10.0,17600],[10.0,15100],[10.0,13000],[10.0,11100],[10.0,9500],[10.0,8100],[10.0,6900],[10.0,5900],[10.0,5100],[10.0,4350],[10.0,3700],[10.0,3200],[10.0,2750],[10.0,2350],[10.0,2050],[10.0,1760],[10.0,1500],[10.0,1300],[10.0,1110],
[25.4,24400],[22.9,18900],[23.6,19600],[24.5,19600],[25.3,19600],[26.9,3360],[19.4,2820],[21.0,464],[21.3,271],[22.4,271],[26.8,392],[26.6,349],[26.0,533],[23.4,113],[24.3,119],[24.5,185],[25.6,257],[25.1,229],[23.4,212],[22.9,5330],[22.8,4240],[25.8,2470],[26.0,724],
[23.7,21000],[24.3,18500],[24.9,16500],[23.7,14500],[24.3,13000],[24.9,11500],[23.7,10200],[24.3,9000],[24.9,8000],[23.7,7100],[24.3,6300],[24.9,5600],[23.7,5000],[24.3,4400],[24.9,3900],[23.7,3500],[24.3,3100],[24.9,2750],[23.7,2450],[24.3,2150],[24.9,1900],[23.7,1700],[24.3,1500],[24.9,1330],[23.7,1180],[24.3,1050],[24.9,930],[23.7,830],[24.3,740],[24.9,650],[23.7,580],[24.3,510],[24.9,455],[23.7,400],[24.3,355],[24.9,315],[23.7,280],[24.3,250],[24.9,220],[23.7,195],[24.3,180],
[24.0,20000],[24.6,15500],[24.0,12000],[24.6,9500],[24.0,7500],[24.6,6000],[24.0,4700],[24.6,3700],[24.0,2900],[24.6,2300],[24.0,1800],[24.6,1400],[24.0,1120],[24.6,880],[24.0,700],[24.6,550],[24.0,430],[24.6,340],[24.0,265],
[23.4,19500],[24.6,17500],[23.4,15500],[24.0,13800],[24.6,12200],[23.4,10800],[24.0,9600],[24.6,8500],[23.4,7500],[24.0,6700],[24.6,5900],[23.4,5300],[24.0,4200],[24.6,4100],[23.4,3700],[24.0,3300],[24.6,2900],[23.4,2600],[24.0,2300],[24.6,2050],[23.4,1800],[24.0,1600],[24.6,1600],[23.4,1250],[24.0,1400],[24.6,1100],[23.4,980],[24.0,880],[24.6,790],[23.4,700],[24.0,620],[24.6,480],[23.4,530],[24.0,380],[24.6,420],[23.4,300],[24.0,330],[24.6,235],[23.4,230],[24.0,210],
[22.6,2300],[22.8,1500],[25.9,1800],[26.0,1200],[22.7,900],[25.8,1000],[22.9,600],[25.7,700],[23.0,450],[25.6,430],[22.9,330],[25.4,320]
];

const panelData = [
  [global25, [], []],
  [[], [], japan50],
  [global75, [], []],
  [global100, [], japan100],
  [global150, healthy150, []],
  [global200, [], []]
];

// ---------------- LAYOUT ----------------
const W = 1933, H = 1260;
const colL = [222.5, 790.5, 1358.5];
const colW = 568;
const rowTop = [145, 658];
const rowBot = [612, 1124];
const stripTop = [100, 612];
const fontFam = 'Liberation Sans, Arial, Helvetica, sans-serif';

const traces = [];
const layout = {
  width: W, height: H,
  margin: {l:0, r:0, t:0, b:0, pad:0},
  paper_bgcolor: '#ffffff', plot_bgcolor: '#ffffff',
  showlegend: false,
  font: {family: fontFam, color: '#000'},
  shapes: [], annotations: []
};

// top blue bar
layout.shapes.push({type:'rect', xref:'paper', yref:'paper', x0:0, x1:1, y0:1-22/H, y1:1, fillcolor:'#16429d', line:{width:0}});

for (let i = 0; i < 6; i++) {
  const col = i % 3, row = Math.floor(i / 3);
  const sfx = i === 0 ? '' : String(i + 1);
  layout['xaxis' + sfx] = {
    domain: [colL[col] / W, (colL[col] + colW) / W],
    range: [0, 36], anchor: 'y' + sfx,
    showline: true, mirror: true, linecolor: '#000', linewidth: 1.8,
    showgrid: false, zeroline: false,
    ticks: row === 1 ? 'outside' : '', ticklen: 19, tickwidth: 1.5, tickcolor: '#000',
    tickmode: 'array', tickvals: xTickVals, ticktext: xTickText,
    showticklabels: row === 1, ticklabelstandoff: 5,
    tickfont: {size: 28, color: '#000', family: fontFam}
  };
  layout['yaxis' + sfx] = {
    domain: [1 - rowBot[row] / H, 1 - rowTop[row] / H],
    type: 'log', range: [0.01, 4.68], anchor: 'x' + sfx,
    showline: true, mirror: true, linecolor: '#000', linewidth: 1.8,
    showgrid: false, zeroline: false,
    ticks: col === 0 ? 'outside' : '', ticklen: 18, tickwidth: 1.5, tickcolor: '#000',
    tickmode: 'array', tickvals: yTickVals, ticktext: yTickText,
    showticklabels: col === 0, ticklabelstandoff: 10,
    tickfont: {size: 28, color: '#000', family: fontFam}
  };
  // strip
  const sH = row === 0 ? 45 : 46;
  layout.shapes.push({type:'rect', xref:'paper', yref:'paper',
    x0: colL[col] / W, x1: (colL[col] + colW) / W,
    y0: 1 - (stripTop[row] + sH) / H, y1: 1 - stripTop[row] / H,
    fillcolor: '#dcdde6', line: {color: '#000', width: 1.8}});
  layout.annotations.push({xref:'paper', yref:'paper',
    x: (colL[col] + colW / 2) / W, y: 1 - (stripTop[row] + sH / 2) / H,
    xanchor: 'center', yanchor: 'middle', showarrow: false, yshift: -2,
    text: doses[i], font: {size: 37, color: '#000', family: fontFam}});
  // traces
  for (let g = 0; g < 3; g++) {
    const d = panelData[i][g];
    if (!d.length) continue;
    traces.push({
      type: 'scatter', mode: 'markers', name: groups[g],
      x: d.map(p => p[0]), y: d.map(p => p[1]),
      xaxis: 'x' + sfx, yaxis: 'y' + sfx,
      marker: {symbol: 'circle-open', size: 10, color: groupColors[g], line: {width: 2.3, color: groupColors[g]}},
      hoverinfo: 'skip', showlegend: false
    });
  }
}

// axis titles
layout.annotations.push({xref:'paper', yref:'paper', x: 1074.5 / W, y: 1 - 1234 / H,
  xanchor:'center', yanchor:'middle', showarrow:false, text: xTitle,
  font:{size:37, color:'#000', family: fontFam}});
layout.annotations.push({xref:'paper', yref:'paper', x: 47 / W, y: 1 - 635 / H,
  xanchor:'center', yanchor:'middle', showarrow:false, text: yTitle, textangle: -90,
  font:{size:37, color:'#000', family: fontFam}});

// legend (text left, symbol right, as in the original)
const legY = [993, 1030, 1065];
for (let g = 0; g < 3; g++) {
  layout.annotations.push({xref:'paper', yref:'paper', x: 1542 / W, y: 1 - legY[g] / H,
    xanchor:'left', yanchor:'middle', showarrow:false, text: groups[g],
    font:{size:37, color:'#000', family: fontFam}});
  layout.shapes.push({type:'circle', xref:'paper', yref:'paper',
    xsizemode:'pixel', ysizemode:'pixel',
    xanchor: 1887 / W, yanchor: 1 - legY[g] / H,
    x0:-5, x1:5, y0:-5, y1:5,
    line:{color: groupColors[g], width: 2}, fillcolor:'rgba(0,0,0,0)'});
}

Plotly.newPlot('chart', traces, layout, {displayModeBar: false, staticPlot: true});
</script>
</body>
</html>
